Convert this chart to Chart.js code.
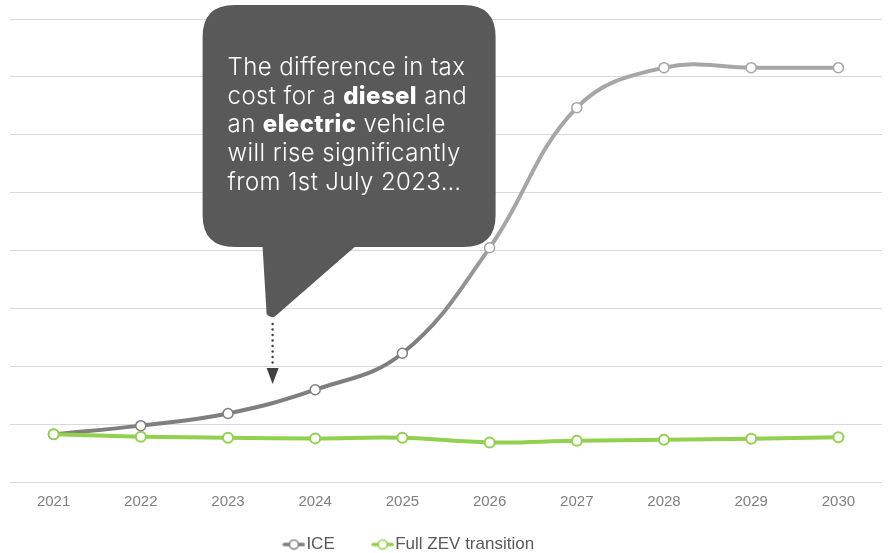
<!DOCTYPE html>
<html>
<head>
<meta charset="utf-8">
<script src="https://cdn.jsdelivr.net/npm/chart.js@4"></script>
<style>
  html, body { margin: 0; padding: 0; background: #fff; }
  #wrap { width: 889px; height: 553px; }
</style>
</head>
<body>
<div id="wrap"><canvas id="myChart"></canvas></div>
<script>
var years = ["2021", "2022", "2023", "2024", "2025", "2026", "2027", "2028", "2029", "2030"];
var iceValues = [0.83, 0.98, 1.19, 1.60, 2.23, 4.05, 6.47, 7.16, 7.16, 7.16];
var zevValues = [0.83, 0.79, 0.77, 0.76, 0.77, 0.69, 0.72, 0.735, 0.755, 0.78];
var yTicksMax = 8;

var noteLines = [
  [["The difference in tax", false]],
  [["cost for a ", false], ["diesel", true], [" and", false]],
  [["an ", false], ["electric", true], [" vehicle", false]],
  [["will rise significantly", false]],
  [["from 1st July 2023\u2026", false]]
];

var darkGrey = "#7f7f7f";
var lightGrey = "#a6a6a6";
var green = "#92d050";

// "line + circle" legend symbol, wider than the box so it sits right against the text
function legendIcon(color) {
  var c = document.createElement("canvas");
  c.width = 23; c.height = 12;
  var g = c.getContext("2d");
  g.strokeStyle = color; g.lineWidth = 3.5; g.lineCap = "round";
  g.beginPath(); g.moveTo(2, 6); g.lineTo(21, 6); g.stroke();
  g.fillStyle = "#fff"; g.lineWidth = 1.5;
  g.beginPath(); g.arc(11.5, 6, 4.5, 0, Math.PI * 2); g.fill(); g.stroke();
  return c;
}

function iceGradient(context) {
  var chart = context.chart;
  var area = chart.chartArea;
  if (!area) return darkGrey;
  var grad = chart.ctx.createLinearGradient(0, area.bottom, 0, area.top);
  grad.addColorStop(0, darkGrey);
  grad.addColorStop(0.3, darkGrey);
  grad.addColorStop(0.55, lightGrey);
  grad.addColorStop(1, lightGrey);
  return grad;
}

var calloutPlugin = {
  id: "callout",
  afterLayout: function (chart) {
    // legend sits a bit left of centre and closer to the axis in the original
    var lg = chart.legend;
    lg.right -= 72;
    lg.top -= 28.4;
    lg.bottom -= 28.4;
  },
  afterDraw: function (chart) {
    var ctx = chart.ctx;
    var x = chart.scales.x;
    var tipX = x.getPixelForValue(2.5); // 1st July 2023
    var left = tipX - 69, right = tipX + 224, top = 5, bottom = 247, r = 32;
    ctx.save();
    ctx.fillStyle = "#595959";
    ctx.beginPath();
    ctx.moveTo(left + r, top);
    ctx.lineTo(right - r, top);
    ctx.quadraticCurveTo(right, top, right, top + r);
    ctx.lineTo(right, bottom - r);
    ctx.quadraticCurveTo(right, bottom, right - r, bottom);
    ctx.lineTo(tipX + 83, bottom);
    ctx.lineTo(tipX + 5, 315);
    ctx.quadraticCurveTo(tipX, 320, tipX - 5, 314);
    ctx.lineTo(tipX - 9, bottom);
    ctx.lineTo(left + r, bottom);
    ctx.quadraticCurveTo(left, bottom, left, bottom - r);
    ctx.lineTo(left, top + r);
    ctx.quadraticCurveTo(left, top, left + r, top);
    ctx.closePath();
    ctx.fill();

    // dotted arrow
    ctx.fillStyle = "#404040";
    for (var yy = 324; yy < 368; yy += 5.5) {
      ctx.beginPath(); ctx.arc(tipX + 1, yy, 1.2, 0, Math.PI * 2); ctx.fill();
    }
    ctx.beginPath();
    ctx.moveTo(tipX - 5, 368);
    ctx.lineTo(tipX + 7, 368);
    ctx.lineTo(tipX + 1, 384);
    ctx.closePath();
    ctx.fill();

    // text
    ctx.fillStyle = "#ffffff";
    ctx.textBaseline = "alphabetic";
    ctx.textAlign = "left";
    ctx.letterSpacing = "0.4px";
    var lineY = 75;
    noteLines.forEach(function (parts) {
      var cx = left + 25;
      parts.forEach(function (p) {
        ctx.font = (p[1] ? "800 " : "300 ") + "24px Inter, Lato, sans-serif";
        ctx.fillText(p[0], cx, lineY);
        cx += ctx.measureText(p[0]).width;
      });
      lineY += 28.7;
    });
    ctx.restore();
  }
};

new Chart(document.getElementById("myChart"), {
  type: "line",
  data: {
    labels: years,
    datasets: [
      {
        label: "ICE",
        data: iceValues,
        borderColor: iceGradient,
        borderWidth: 4,
        tension: 0.4,
        pointRadius: 5,
        pointHoverRadius: 5,
        pointBackgroundColor: "#fff",
        pointBorderWidth: 1.5,
        pointBorderColor: function (c) { return c.dataIndex < 5 ? darkGrey : lightGrey; },
        order: 2
      },
      {
        label: "Full ZEV transition",
        data: zevValues,
        borderColor: green,
        borderWidth: 4,
        tension: 0.4,
        pointRadius: 5,
        pointHoverRadius: 5,
        pointBackgroundColor: "#fff",
        pointBorderWidth: 2,
        pointBorderColor: green,
        order: 1
      }
    ]
  },
  options: {
    responsive: true,
    maintainAspectRatio: false,
    animation: false,
    layout: { padding: { top: 19, left: 10, right: 3, bottom: -38.4 } },
    scales: {
      x: {
        offset: true,
        grid: { display: false, drawTicks: false },
        border: { display: false },
        ticks: { color: "#7f7f7f", font: { family: "Liberation Sans, Arial", size: 15 }, padding: 10 }
      },
      y: {
        min: 0,
        max: yTicksMax,
        ticks: { display: false, stepSize: 1 },
        grid: { color: "#d9d9d9", lineWidth: 1, drawTicks: false },
        border: { display: false }
      }
    },
    plugins: {
      tooltip: { enabled: false },
      legend: {
        position: "bottom",
        labels: {
          color: "#595959",
          font: { family: "Liberation Sans, Arial", size: 17 },
          usePointStyle: true,
          pointStyleWidth: 8,
          padding: 44,
          generateLabels: function (chart) {
            return chart.data.datasets.map(function (ds, i) {
              return {
                text: ds.label,
                pointStyle: legendIcon(i === 0 ? darkGrey : green),
                fillStyle: "#fff",
                strokeStyle: "#fff",
                lineWidth: 0,
                fontColor: "#595959",
                datasetIndex: i
              };
            });
          }
        }
      }
    }
  },
  plugins: [calloutPlugin]
});
</script>
</body>
</html>
